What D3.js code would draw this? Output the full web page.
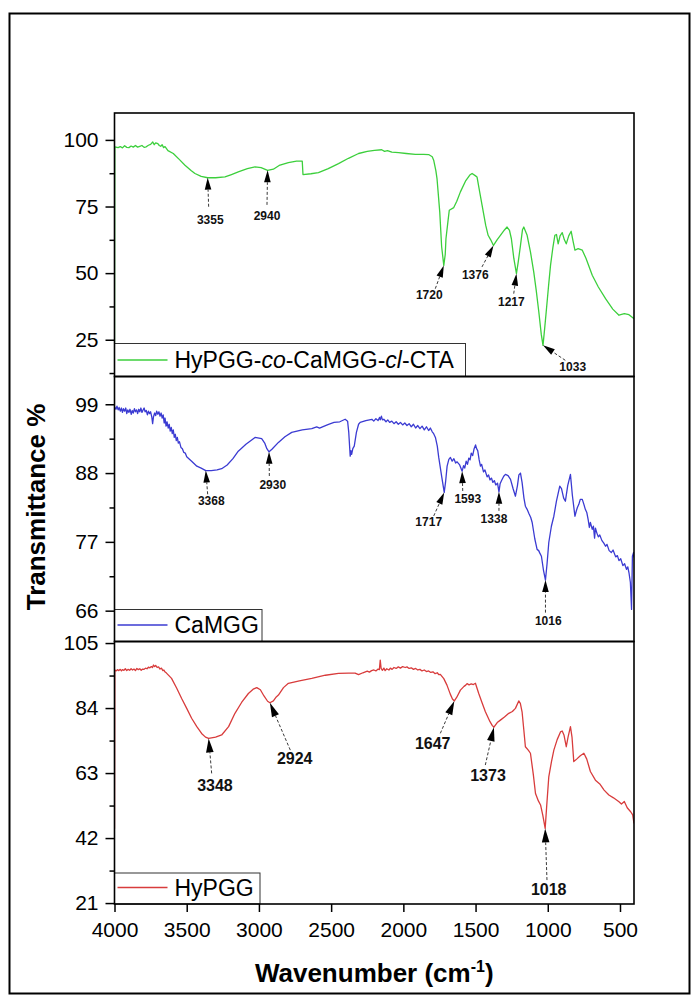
<!DOCTYPE html>
<html>
<head>
<meta charset="utf-8">
<script src="https://cdn.jsdelivr.net/npm/d3@7/dist/d3.min.js"></script>
<style>
  body { margin: 0; background: #fff; }
  text { font-family: Arial, "Liberation Sans", sans-serif; }
</style>
</head>
<body>
<svg id="chart" width="692" height="998"></svg>
<script>
// ---------------- data ----------------
const wavenumberTicks = [4000, 3500, 3000, 2500, 2000, 1500, 1000, 500];

const ctaTicks = [25, 50, 75, 100];
const ctaMinorTicks = [12.5, 37.5, 62.5, 87.5];
const camggTicks = [66, 77, 88, 99];
const camggMinorTicks = [71.5, 82.5, 93.5];
const hypggTicks = [21, 42, 63, 84, 105];
const hypggMinorTicks = [31.5, 52.5, 73.5, 94.5];

const seriesNames = ["HyPGG-co-CaMGG-cl-CTA", "CaMGG", "HyPGG"];

// [wavenumber cm-1, transmittance %]
const ctaSpectrum = [
  [4000, 24], [3998, 97.4], [3975, 97.1], [3960, 97.5], [3945, 97.0], [3930, 97.8], [3915, 97.2],
  [3900, 97.1], [3885, 97.7], [3870, 97.3], [3855, 97.9], [3840, 97.3], [3825, 97.6], [3810, 97.9],
  [3795, 97.2], [3780, 97.4], [3765, 98.0], [3750, 98.3], [3735, 99.2], [3725, 98.2], [3715, 98.9],
  [3700, 98.6], [3690, 97.9], [3680, 97.6], [3670, 98.2], [3660, 97.1], [3650, 97.5], [3630, 96.0],
  [3593, 94.9], [3550, 92.6], [3512, 90.5], [3470, 88.5], [3443, 87.4], [3400, 86.3], [3355, 85.8],
  [3300, 85.8], [3235, 86.1], [3190, 87.0], [3143, 88.0], [3080, 89.2], [3027, 89.9], [2985, 89.6],
  [2940, 88.6], [2900, 89.0], [2860, 90.4], [2796, 91.5], [2740, 92.0], [2700, 92.0], [2695, 87.0],
  [2640, 87.3], [2588, 87.7], [2520, 89.2], [2449, 91.1], [2380, 93.1], [2310, 94.9], [2250, 95.7],
  [2200, 96.1], [2150, 96.3], [2130, 95.7], [2110, 96.0], [2080, 95.4], [2033, 95.2], [1980, 94.9],
  [1917, 94.6], [1860, 94.6], [1825, 94.5], [1800, 93.7], [1790, 92.4], [1775, 88.5], [1767, 85.5],
  [1748, 73.0], [1735, 60.0], [1720, 52.9], [1710, 57.0], [1705, 62.9], [1690, 70.0], [1682, 73.6],
  [1651, 74.6], [1630, 77.0], [1605, 80.5], [1570, 84.5], [1540, 86.8], [1524, 87.4], [1500, 86.5],
  [1490, 86.1], [1470, 80.0], [1455, 75.5], [1430, 68.0], [1413, 64.2], [1395, 62.5], [1376, 60.4],
  [1350, 62.6], [1328, 64.2], [1300, 66.2], [1282, 67.3], [1265, 66.0], [1252, 62.9], [1235, 55.5],
  [1217, 49.8], [1205, 54.0], [1189, 60.4], [1175, 66.3], [1166, 67.3], [1155, 65.8], [1143, 64.2],
  [1120, 58.0], [1097, 50.4], [1080, 43.5], [1062, 35.4], [1045, 27.0], [1033, 22.9], [1022, 29.0],
  [1011, 35.4], [995, 45.0], [981, 52.9], [965, 59.5], [951, 64.2], [940, 64.5], [928, 61.0],
  [915, 64.0], [900, 65.2], [885, 62.5], [872, 61.0], [855, 64.0], [838, 65.7], [825, 62.0],
  [812, 58.6], [790, 59.2], [761, 58.6], [735, 55.5], [692, 49.2], [650, 44.8], [600, 40.4],
  [550, 36.5], [507, 34.2], [470, 34.8], [438, 34.4], [420, 33.6], [403, 32.9]
];

const camggSpectrum = [
  [4000, 98.6], [3990, 98.2], [3983, 98.7], [3975, 98.1], [3968, 98.5], [3960, 97.9], [3952, 98.4],
  [3945, 97.7], [3938, 98.3], [3930, 97.9], [3922, 98.4], [3915, 97.5], [3908, 98.1], [3900, 97.7],
  [3893, 98.2], [3884, 97.4], [3877, 98.0], [3870, 97.6], [3862, 98.3], [3855, 97.8], [3847, 98.1],
  [3840, 97.5], [3832, 98.2], [3825, 97.8], [3817, 98.4], [3810, 97.7], [3802, 98.1], [3795, 98.4],
  [3788, 97.8], [3780, 98.0], [3772, 97.3], [3765, 97.9], [3757, 97.5], [3750, 97.8], [3742, 97.0],
  [3736, 95.9], [3730, 97.0], [3722, 97.6], [3715, 97.2], [3708, 97.9], [3700, 97.4], [3692, 97.8],
  [3685, 97.1], [3677, 97.6], [3670, 96.8], [3663, 97.3], [3656, 96.0], [3650, 96.8], [3643, 95.5],
  [3636, 96.2], [3628, 95.2], [3621, 95.8], [3614, 94.7], [3607, 95.3], [3600, 94.3], [3593, 94.9],
  [3586, 93.7], [3579, 94.2], [3572, 93.2], [3565, 93.7], [3558, 92.8], [3550, 93.0], [3540, 92.1],
  [3530, 91.9], [3520, 91.3], [3510, 91.2], [3500, 90.6], [3466, 89.9], [3430, 89.1], [3400, 88.8],
  [3368, 88.4], [3330, 88.4], [3290, 88.5], [3258, 88.7], [3220, 89.3], [3180, 90.3], [3143, 91.5],
  [3090, 92.6], [3027, 93.7], [2981, 93.5], [2960, 92.8], [2945, 91.9], [2930, 91.4], [2910, 91.8],
  [2865, 92.9], [2820, 93.8], [2773, 94.5], [2700, 94.9], [2634, 95.1], [2600, 95.4], [2580, 95.2],
  [2560, 95.4], [2518, 95.8], [2480, 96.1], [2440, 96.2], [2403, 96.6], [2386, 96.3], [2378, 94.5],
  [2368, 90.7], [2363, 91.6], [2358, 91.0], [2350, 91.9], [2340, 92.3], [2325, 94.5], [2310, 95.8],
  [2299, 96.1], [2260, 96.4], [2218, 96.6], [2205, 96.3], [2190, 96.7], [2175, 96.4], [2165, 96.9],
  [2160, 96.5], [2152, 97.1], [2145, 96.5], [2135, 96.6], [2120, 96.2], [2108, 96.5], [2095, 96.1],
  [2080, 96.3], [2065, 95.9], [2050, 96.2], [2035, 95.8], [2020, 96.1], [2005, 95.7], [1990, 96.0],
  [1975, 95.6], [1960, 95.9], [1945, 95.4], [1930, 95.8], [1915, 95.2], [1900, 95.6], [1885, 95.1],
  [1870, 95.5], [1855, 94.9], [1840, 95.4], [1825, 94.8], [1813, 95.2], [1800, 94.6], [1790, 94.3],
  [1778, 93.7], [1765, 92.3], [1755, 90.5], [1735, 87.5], [1717, 84.9], [1708, 86.5], [1697, 89.1],
  [1685, 90.2], [1674, 90.5], [1662, 89.9], [1650, 90.3], [1638, 89.6], [1628, 89.8], [1610, 89.3],
  [1593, 88.3], [1583, 89.2], [1575, 88.8], [1565, 89.9], [1556, 89.4], [1547, 90.4], [1538, 90.1],
  [1530, 91.2], [1520, 90.8], [1510, 91.9], [1500, 92.5], [1493, 91.9], [1485, 91.6], [1475, 90.1],
  [1466, 89.1], [1458, 89.4], [1445, 88.2], [1435, 88.5], [1420, 87.4], [1410, 87.7], [1400, 86.9],
  [1390, 87.2], [1380, 86.5], [1370, 86.8], [1360, 86.1], [1348, 86.4], [1338, 85.0], [1330, 86.3],
  [1320, 86.8], [1305, 87.5], [1293, 87.8], [1275, 87.6], [1258, 87.0], [1240, 85.5], [1224, 84.3],
  [1210, 86.0], [1200, 87.7], [1189, 88.0], [1178, 86.5], [1165, 84.0], [1155, 82.7], [1143, 82.2],
  [1130, 81.5], [1118, 80.9], [1108, 80.1], [1090, 77.5], [1074, 75.8], [1063, 75.6], [1055, 75.2],
  [1044, 74.7], [1030, 72.5], [1016, 70.9], [1005, 73.5], [993, 76.9], [975, 79.5], [958, 81.1],
  [940, 83.5], [917, 85.9], [905, 85.5], [890, 84.0], [878, 83.5], [862, 86.0], [843, 87.8],
  [830, 84.5], [812, 81.1], [803, 81.9], [795, 82.5], [785, 83.0], [775, 83.8], [761, 83.8],
  [750, 83.0], [740, 82.2], [730, 81.7], [720, 80.5], [712, 79.3], [705, 80.1], [692, 79.0],
  [684, 79.5], [676, 77.6], [670, 79.2], [660, 78.4], [650, 77.8], [640, 78.1], [625, 77.2],
  [612, 76.8], [600, 76.3], [590, 76.6], [575, 75.6], [560, 75.3], [548, 75.7], [530, 74.6],
  [518, 74.8], [507, 74.0], [495, 74.3], [480, 73.2], [468, 73.5], [455, 72.6], [446, 73.0],
  [438, 72.1], [428, 70.5], [420, 66.2], [414, 74.7], [406, 75.3], [403, 74.5]
];

const hypggSpectrum = [
  [4000, 45], [3998, 96.3], [3988, 96.0], [3980, 96.4], [3970, 96.1], [3960, 96.5], [3952, 96.0],
  [3945, 96.4], [3935, 96.2], [3925, 96.7], [3915, 96.1], [3905, 96.5], [3895, 96.2], [3885, 96.7],
  [3875, 96.3], [3865, 96.6], [3855, 96.1], [3845, 96.8], [3835, 96.4], [3825, 96.7], [3815, 96.2],
  [3805, 96.6], [3795, 96.5], [3785, 96.9], [3775, 96.7], [3765, 97.2], [3755, 97.0], [3745, 97.4],
  [3737, 97.1], [3730, 97.9], [3722, 97.4], [3715, 97.8], [3705, 97.1], [3695, 97.3], [3685, 96.6],
  [3675, 96.9], [3665, 96.1], [3658, 96.3], [3651, 95.7], [3640, 95.3], [3630, 94.8], [3605, 93.6],
  [3570, 90.5], [3535, 87.1], [3500, 83.9], [3466, 80.7], [3430, 78.0], [3397, 75.8], [3370, 74.6],
  [3348, 74.2], [3300, 74.6], [3258, 75.3], [3210, 78.0], [3166, 82.3], [3120, 85.8], [3073, 88.7],
  [3040, 90.1], [3015, 90.6], [2990, 89.9], [2965, 87.9], [2940, 86.2], [2924, 85.7], [2900, 86.3],
  [2880, 87.6], [2865, 88.2], [2830, 90.6], [2796, 92.0], [2720, 92.8], [2634, 93.6], [2540, 94.6],
  [2449, 95.2], [2380, 95.3], [2334, 95.3], [2310, 94.8], [2280, 95.4], [2250, 95.9], [2235, 95.6],
  [2220, 96.1], [2204, 96.3], [2190, 96.0], [2175, 96.6], [2166, 96.4], [2160, 99.5], [2154, 96.8],
  [2145, 96.2], [2135, 96.9], [2126, 96.1], [2115, 96.7], [2100, 96.3], [2090, 96.9], [2078, 96.5],
  [2065, 97.1], [2050, 96.8], [2035, 97.3], [2020, 96.9], [2005, 97.4], [1987, 97.1], [1975, 97.3],
  [1960, 96.8], [1945, 97.0], [1930, 96.5], [1915, 96.8], [1900, 96.3], [1885, 96.5], [1871, 96.0],
  [1855, 96.3], [1840, 95.8], [1825, 96.0], [1810, 95.5], [1795, 95.7], [1780, 95.1], [1765, 95.4],
  [1755, 94.8], [1744, 94.9], [1720, 93.5], [1698, 91.4], [1675, 88.5], [1660, 86.9], [1647, 86.3],
  [1630, 87.5], [1605, 89.8], [1580, 91.0], [1568, 91.4], [1559, 91.9], [1545, 91.5], [1530, 91.8],
  [1515, 91.6], [1501, 92.0], [1478, 88.7], [1455, 85.7], [1432, 82.8], [1400, 79.6], [1385, 78.4],
  [1373, 77.8], [1350, 79.3], [1328, 80.1], [1300, 81.1], [1270, 82.3], [1245, 82.9], [1224, 83.9],
  [1201, 86.3], [1190, 85.5], [1178, 82.8], [1165, 76.5], [1155, 71.5], [1135, 70.4], [1120, 69.4],
  [1100, 62.5], [1085, 56.4], [1065, 54.0], [1050, 52.7], [1035, 49.5], [1018, 45.1], [1008, 52.0],
  [993, 61.8], [975, 66.5], [958, 70.4], [935, 73.8], [912, 76.3], [900, 76.6], [888, 75.3],
  [872, 71.5], [860, 74.5], [843, 78.0], [832, 74.5], [820, 66.7], [800, 67.5], [775, 68.6],
  [750, 69.4], [730, 67.5], [705, 63.5], [670, 60.7], [640, 59.5], [610, 57.5], [577, 55.9],
  [545, 55.0], [507, 53.7], [490, 53.0], [470, 53.8], [450, 51.8], [426, 50.5], [412, 49.5], [403, 46.7]
];

// labelled band positions (cm-1)
const ctaPeaks = [3355, 2940, 1720, 1376, 1217, 1033];
const camggPeaks = [3368, 2930, 1717, 1593, 1338, 1016];
const hypggPeaks = [3348, 2924, 1647, 1373, 1018];

// ---------------- layout ----------------
// per band: [arrow tail dx, tail dy, label dx, label baseline dy] in px from the arrow tip
const ctaPeakOffsets = [[1, 29, 2.6, 45.8], [-0.6, 34.6, -0.6, 49.9], [-8.5, 23.3, -14.5, 33.6],
  [-11.5, 21.5, -18.2, 33.5], [-2.7, 20, -5.1, 32.6], [22.3, 15, 29.7, 26]];
const camggPeakOffsets = [[1.9, 23.7, 5.5, 34.7], [0.3, 24.2, 3.7, 36.8], [-10.5, 23.5, -15.5, 33.8],
  [0.6, 19.8, 5.6, 31.4], [0, 19, -5, 31], [0, 32.6, 2.8, 45.2]];
const hypggPeakOffsets = [[3, 35, 6.3, 53], [20.4, 47.3, 24.8, 61.3], [-14, 32.4, -21.6, 48.1],
  [-8.6, 37.8, -5.9, 53.5], [1.8, 51.6, 3.5, 66.6]];

const plotLeft = 114.5, plotRight = 634;

const panels = [
  { series: ctaSpectrum, name: seriesNames[0], color: "#3ccf3c", domain: [11.2, 110.1],
    top: 113, bottom: 376.5, major: ctaTicks, minor: ctaMinorTicks,
    peaks: ctaPeaks, offsets: ctaPeakOffsets, labelSize: 12, head: [12, 3.3], legendW: 351, legendH: 33 },
  { series: camggSpectrum, name: seriesNames[1], color: "#3b3bd2", domain: [61.07, 103.44],
    top: 376.5, bottom: 641.5, major: camggTicks, minor: camggMinorTicks,
    peaks: camggPeaks, offsets: camggPeakOffsets, labelSize: 12, head: [12, 3.3], legendW: 147.5, legendH: 32 },
  { series: hypggSpectrum, name: seriesNames[2], color: "#d83c3c", domain: [20.7, 105.5],
    top: 641.5, bottom: 904, major: hypggTicks, minor: hypggMinorTicks,
    peaks: hypggPeaks, offsets: hypggPeakOffsets, labelSize: 16, head: [14, 3.8], legendW: 145.5, legendH: 31 }
];

const svg = d3.select("#chart");

// outer figure frame
svg.append("rect")
  .attr("x", 9.5).attr("y", 13.5).attr("width", 680).attr("height", 980)
  .attr("fill", "none").attr("stroke", "#000").attr("stroke-width", 2);

const x = d3.scaleLinear().domain([4000, 403]).range([plotLeft, plotRight]);

function drawArrow(g, tip, tail, headLen, headHalf) {
  const dx = tip[0] - tail[0], dy = tip[1] - tail[1];
  const len = Math.hypot(dx, dy);
  const ux = dx / len, uy = dy / len;
  const bx = tip[0] - ux * headLen, by = tip[1] - uy * headLen;
  g.append("line")
    .attr("x1", tail[0]).attr("y1", tail[1]).attr("x2", bx).attr("y2", by)
    .attr("stroke", "#222").attr("stroke-width", 0.9).attr("stroke-dasharray", "3,2");
  g.append("path")
    .attr("d", `M${tip[0]},${tip[1]}L${bx - uy * headHalf},${by + ux * headHalf}L${bx + uy * headHalf},${by - ux * headHalf}Z`)
    .attr("fill", "#000");
}

panels.forEach((p, i) => {
  const y = d3.scaleLinear().domain(p.domain).range([p.bottom, p.top]);
  const g = svg.append("g");

  const clipId = "clip" + i;
  svg.append("clipPath").attr("id", clipId)
    .append("rect").attr("x", plotLeft).attr("y", p.top)
    .attr("width", plotRight - plotLeft).attr("height", p.bottom - p.top);

  // minor y ticks
  g.append("g")
    .attr("transform", `translate(${plotLeft},0)`)
    .call(d3.axisLeft(y).tickValues(p.minor).tickSize(5).tickFormat(""))
    .call(a => a.select(".domain").remove())
    .call(a => a.selectAll("line").attr("stroke", "#000").attr("stroke-width", 1.5));

  // major y ticks with labels
  g.append("g")
    .attr("transform", `translate(${plotLeft},0)`)
    .call(d3.axisLeft(y).tickValues(p.major).tickSize(9).tickPadding(7).tickFormat(d3.format("d")))
    .call(a => a.select(".domain").remove())
    .call(a => a.selectAll("line").attr("stroke", "#000").attr("stroke-width", 1.5))
    .call(a => a.selectAll("text").attr("font-size", 21).attr("fill", "#000")
      .attr("font-family", 'Arial, "Liberation Sans", sans-serif'));

  // spectrum
  const line = d3.line().x(d => x(d[0])).y(d => y(d[1]));
  g.append("path")
    .datum(p.series)
    .attr("clip-path", `url(#${clipId})`)
    .attr("d", line)
    .attr("fill", "none")
    .attr("stroke", p.color)
    .attr("stroke-width", 1.3)
    .attr("stroke-linejoin", "round");

  // band annotations
  const ann = g.append("g");
  p.peaks.forEach((wn, k) => {
    const pt = p.series.find(d => d[0] === wn);
    const tip = [x(wn), y(pt[1])];
    const o = p.offsets[k];
    drawArrow(ann, tip, [tip[0] + o[0], tip[1] + o[1]], p.head[0], p.head[1]);
    ann.append("text")
      .attr("x", tip[0] + o[2]).attr("y", tip[1] + o[3])
      .attr("text-anchor", "middle")
      .attr("font-size", p.labelSize).attr("font-weight", "bold").attr("fill", "#111")
      .text(wn);
  });

  // legend
  const lg = g.append("g");
  lg.append("rect")
    .attr("x", plotLeft).attr("y", p.bottom - p.legendH)
    .attr("width", p.legendW).attr("height", p.legendH)
    .attr("fill", "#fff").attr("stroke", "#333").attr("stroke-width", 1);
  lg.append("line")
    .attr("x1", plotLeft + 3).attr("x2", plotLeft + 53)
    .attr("y1", p.bottom - 16.5).attr("y2", p.bottom - 16.5)
    .attr("stroke", p.color).attr("stroke-width", 1.5);
  const lt = lg.append("text")
    .attr("x", plotLeft + 60).attr("y", p.bottom - 8.5)
    .attr("font-size", 23).attr("fill", "#000");
  // italicise the "co" / "cl" connectors of the copolymer name
  p.name.split(/(?<=-)(co|cl)(?=-)/).forEach(part => {
    lt.append("tspan").attr("font-style", part === "co" || part === "cl" ? "italic" : "normal").text(part);
  });

  // panel frame
  g.append("rect")
    .attr("x", plotLeft).attr("y", p.top)
    .attr("width", plotRight - plotLeft).attr("height", p.bottom - p.top)
    .attr("fill", "none").attr("stroke", "#000").attr("stroke-width", 1.6);
});

// shared wavenumber axis
const bottomPanel = panels[panels.length - 1];
svg.append("g")
  .attr("transform", `translate(0,${bottomPanel.bottom})`)
  .call(d3.axisBottom(x).tickValues(wavenumberTicks).tickSize(8).tickPadding(10).tickFormat(d3.format("d")))
  .call(a => a.select(".domain").remove())
  .call(a => a.selectAll("line").attr("stroke", "#000").attr("stroke-width", 1.5))
  .call(a => a.selectAll("text").attr("font-size", 21).attr("fill", "#000")
    .attr("font-family", 'Arial, "Liberation Sans", sans-serif'));

// axis titles
const xTitle = svg.append("text")
  .attr("x", (plotLeft + plotRight) / 2).attr("y", 982)
  .attr("text-anchor", "middle").attr("font-size", 26).attr("font-weight", "bold");
xTitle.append("tspan").text("Wavenumber (cm");
xTitle.append("tspan").attr("font-size", 16).attr("dy", -10).text("-1");
xTitle.append("tspan").attr("dy", 10).text(")");

svg.append("text")
  .attr("transform", `translate(45,507) rotate(-90)`)
  .attr("text-anchor", "middle").attr("font-size", 26).attr("font-weight", "bold")
  .text("Transmittance %");
</script>
</body>
</html>
